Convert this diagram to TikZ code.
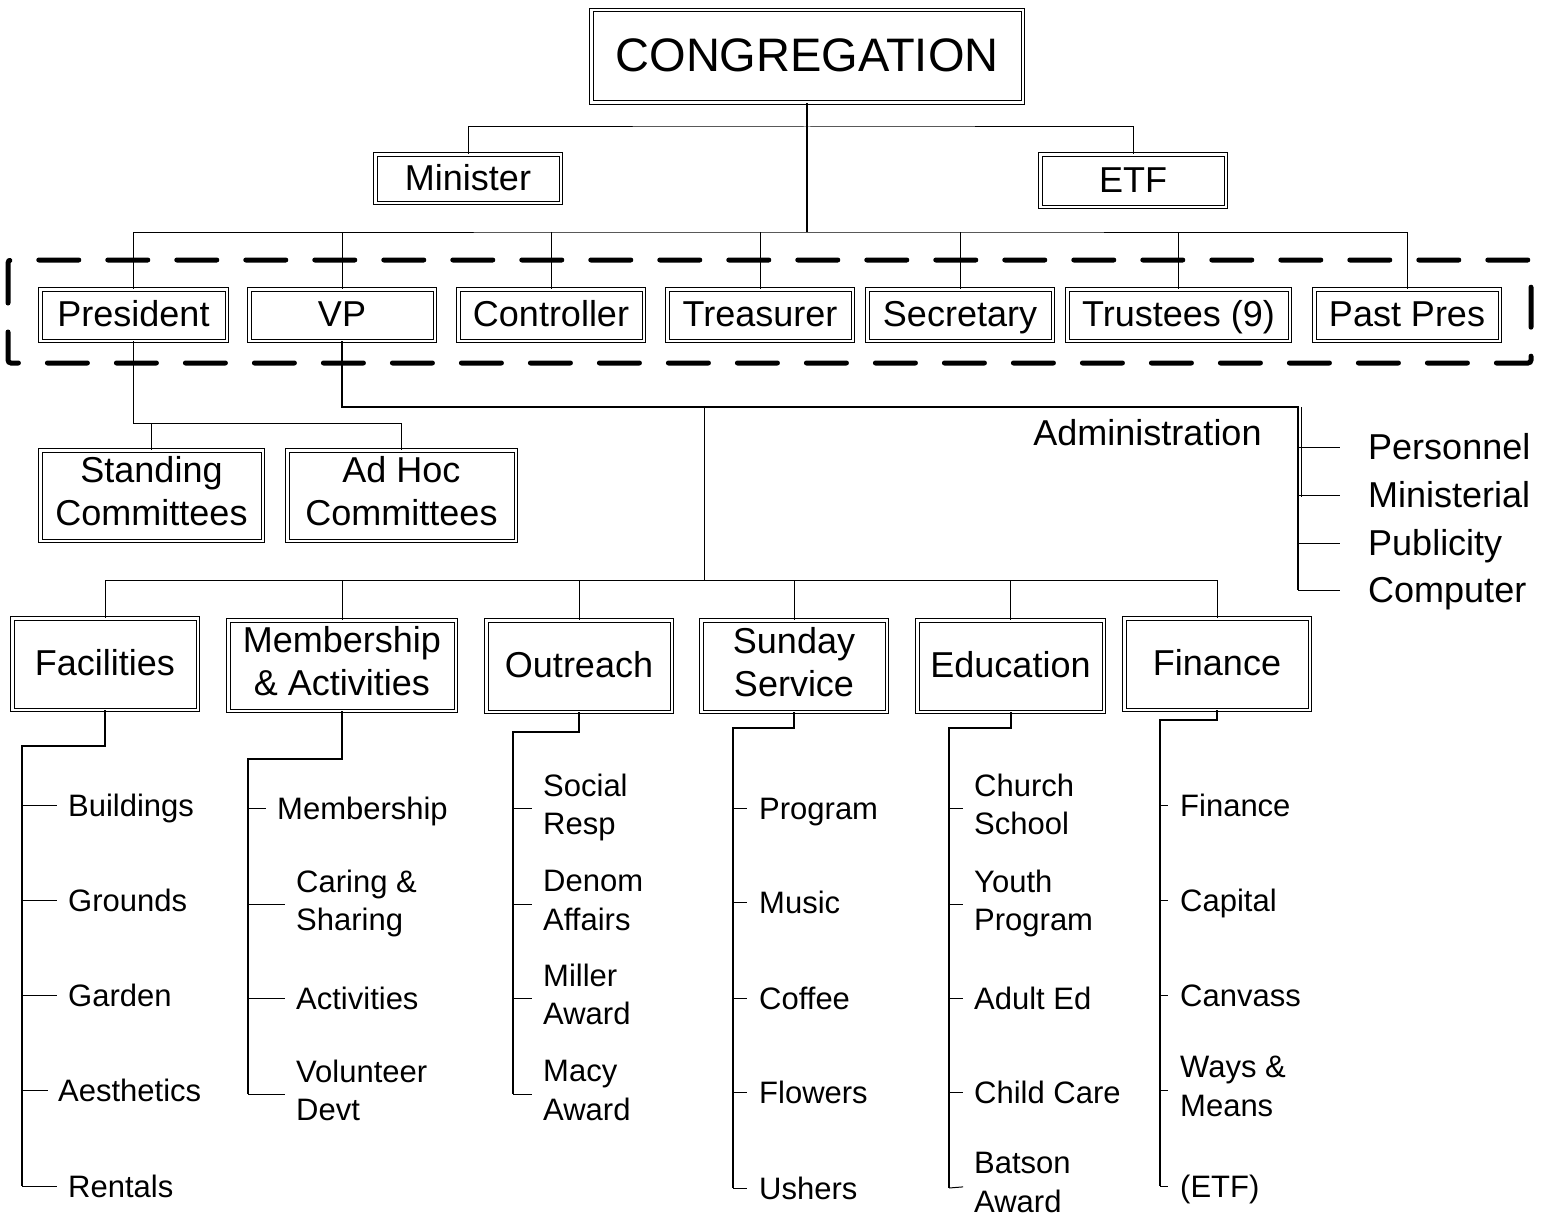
\documentclass[tikz,border=0pt]{standalone}
\usepackage{fontspec}
\setmainfont{Liberation Sans}
\newcommand\bigstr{\rule[-9pt]{0pt}{41pt}}
\newcommand\admstr{\rule[-8.2pt]{0pt}{42.2pt}}
\newcommand\smlstr{\rule[-7pt]{0pt}{36.2pt}}
\newcommand\hugestr{\rule[-10.4pt]{0pt}{50.4pt}}
\begin{document}
\begin{tikzpicture}[x=1pt,y=-1pt,
  box/.style={draw=black, double=white, line width=1pt, double distance=2.5pt,
    inner sep=0pt, align=center, font=\fontsize{36}{43}\selectfont,
    execute at begin node=\bigstr, execute at end node=\bigstr},
  lbl/.style={inner sep=0pt, anchor=west, align=left, font=\fontsize{31}{38.5}\selectfont,
    execute at begin node=\smlstr, execute at end node=\smlstr},
  albl/.style={inner sep=0pt, anchor=west, align=left, font=\fontsize{36}{43}\selectfont,
    execute at begin node=\admstr, execute at end node=\admstr},
  conn/.style={line width=1pt},
  brk/.style={line width=2pt},
  tick/.style={line width=1pt}]
\useasboundingbox (0,0) rectangle (1549,1220);
\fill[white] (0,0) rectangle (1549,1220);

% top
\node[draw=black, double=white, line width=1pt, double distance=2.5pt, inner sep=0pt,
  font=\fontsize{47}{52}\selectfont, minimum width=431.5pt, minimum height=92.5pt,
  execute at begin node=\hugestr] (cong) at (807,56.5) {CONGREGATION};
\node[box, minimum width=185.5pt, minimum height=48.5pt] (minister) at (468,178.5) {Minister};
\node[box, minimum width=185.5pt, minimum height=52.5pt] (etf) at (1133,180.5) {ETF};

% officers
\node[box, minimum width=186.5pt, minimum height=51.5pt] (pres) at (133.5,315) {President};
\node[box, minimum width=185.5pt, minimum height=51.5pt] (vp) at (342,315) {VP};
\node[box, minimum width=185.5pt, minimum height=51.5pt] (ctrl) at (551,315) {Controller};
\node[box, minimum width=185.5pt, minimum height=51.5pt] (treas) at (760,315) {Treasurer};
\node[box, minimum width=185.5pt, minimum height=51.5pt] (sec) at (960,315) {Secretary};
\node[box, minimum width=222.5pt, minimum height=51.5pt] (trust) at (1178.5,315) {Trustees (9)};
\node[box, minimum width=185.5pt, minimum height=51.5pt] (past) at (1407,315) {Past Pres};

% committees
\node[box, minimum width=222.5pt, minimum height=90.5pt] (stand) at (151.5,495.5) {Standing\\Committees};
\node[box, minimum width=228.5pt, minimum height=90.5pt] (adhoc) at (401.5,495.5) {Ad Hoc\\Committees};

% areas
\node[box, minimum width=185.5pt, minimum height=91.5pt] (fac) at (105,664) {Facilities};
\node[box, minimum width=227.5pt, minimum height=90.5pt] (memb) at (342,665.5) {Membership\\\& Activities};
\node[box, minimum width=185.5pt, minimum height=91.5pt] (outr) at (579,666) {Outreach};
\node[box, minimum width=185.5pt, minimum height=91.5pt] (sund) at (794,666) {Sunday\\Service};
\node[box, minimum width=186.5pt, minimum height=91.5pt] (educ) at (1010.5,666) {Education};
\node[box, minimum width=185.5pt, minimum height=91.5pt] (fin) at (1217,664) {Finance};

% top connectors
\draw[conn] (minister.north) |- (807,127) -| (etf.north);
\draw[line width=2pt] (cong.south) -- (cong.south |- 0,232);
\draw[conn] (pres.north) |- (807,232) -| (past.north);
\foreach \n in {vp,ctrl,treas,sec,trust} \draw[conn] (\n.north) -- (\n.north |- 0,232);

% dashed frame
\draw[line width=5pt, dash pattern=on 40pt off 29pt, line cap=round, rounded corners=3pt] (8,260) rectangle (1531,363);

% president to committees
\draw[conn] (pres.south) |- (adhoc.north |- 0,423) -- (adhoc.north);
\draw[conn] (stand.north) -- (stand.north |- 0,423);

% VP to areas and administration
\draw[line width=1.5pt] (vp.south) |- (1298,407) -- (1298,590);
\draw[conn] (1301,407) -- (1301,497);
\coordinate (vtrunk) at (704,407);
\draw[conn] (vtrunk) -- (704,580);
\draw[conn] (fac.north) |- (fin.north |- 0,580) -- (fin.north);
\foreach \n in {memb,outr,sund,educ} \draw[conn] (\n.north) -- (\n.north |- 0,580);

\node[albl, anchor=center] (admin) at (1147.5,433) {Administration};
\node[albl] (pers) at (1368,447) {Personnel};
\node[albl] (mini) at (1368,495) {Ministerial};
\node[albl] (publ) at (1368,543) {Publicity};
\node[albl] (comp) at (1368,590) {Computer};
\foreach \n/\y in {pers/447,mini/495,publ/543,comp/590}
  \draw[tick] (1298,\y) -- (\n.west) [shorten >=28pt];

% Facilities
\draw[brk] (fac.south) |- (22,746) -- (22,1186);
\node[lbl] (f1) at (68,805) {Buildings};
\node[lbl] (f2) at (68,900) {Grounds};
\node[lbl] (f3) at (68,995) {Garden};
\node[lbl] (f4) at (58,1090) {Aesthetics};
\node[lbl] (f5) at (68,1186) {Rentals};
\foreach \n/\y in {f1/805,f2/900,f3/995,f5/1186} \draw[tick] (22,\y) -- (\n.west) [shorten >=11pt];
\draw[tick] (22,1090) -- (f4.west) [shorten >=10pt];

% Membership
\draw[brk] (memb.south) |- (248,759) -- (248,1094);
\node[lbl] (m1) at (277,808) {Membership};
\node[lbl] (m2) at (296,904) {Caring \&\\Sharing};
\node[lbl] (m3) at (296,998) {Activities};
\node[lbl] (m4) at (296,1094) {Volunteer\\Devt};
\draw[tick] (248,808) -- (m1.west) [shorten >=11pt];
\foreach \n/\y in {m2/904,m3/998,m4/1094} \draw[tick] (248,\y) -- (\n.west) [shorten >=11pt];

% Outreach
\draw[brk] (outr.south) |- (513,732) -- (513,1094);
\node[lbl] (o1) at (543,808) {Social\\Resp};
\node[lbl] (o2) at (543,904) {Denom\\Affairs};
\node[lbl] (o3) at (543,998) {Miller\\Award};
\node[lbl] (o4) at (543,1094) {Macy\\Award};
\foreach \n/\y in {o1/808,o2/904,o3/998,o4/1094} \draw[tick] (513,\y) -- (\n.west) [shorten >=11pt];

% Sunday Service
\draw[brk] (sund.south) |- (733,728) -- (733,1188);
\node[lbl] (s1) at (759,808) {Program};
\node[lbl] (s2) at (759,902) {Music};
\node[lbl] (s3) at (759,998) {Coffee};
\node[lbl] (s4) at (759,1092) {Flowers};
\node[lbl] (s5) at (759,1188) {Ushers};
\foreach \n/\y in {s1/808,s2/902,s3/998,s4/1092,s5/1188} \draw[tick] (733,\y) -- (\n.west) [shorten >=12pt];

% Education
\draw[brk] (educ.south) |- (949,728) -- (949,1188);
\node[lbl] (e1) at (974,808) {Church\\School};
\node[lbl] (e2) at (974,904) {Youth\\Program};
\node[lbl] (e3) at (974,998) {Adult Ed};
\node[lbl] (e4) at (974,1092) {Child Care};
\node[lbl] (e5) at (974,1186) {Batson\\Award};
\foreach \n/\y in {e1/808,e2/904,e3/998,e4/1092,e5/1188} \draw[tick] (949,\y) -- (\n.west) [shorten >=11pt];

% Finance
\draw[brk] (fin.south) |- (1160,720) -- (1160,1186);
\node[lbl] (n1) at (1180,805) {Finance};
\node[lbl] (n2) at (1180,900) {Capital};
\node[lbl] (n3) at (1180,995) {Canvass};
\node[lbl] (n4) at (1180,1090) {Ways \&\\Means};
\node[lbl] (n5) at (1180,1186) {(ETF)};
\foreach \n/\y in {n1/805,n2/900,n3/995,n4/1090,n5/1186} \draw[tick] (1160,\y) -- (\n.west) [shorten >=12pt];
\end{tikzpicture}
\end{document}
